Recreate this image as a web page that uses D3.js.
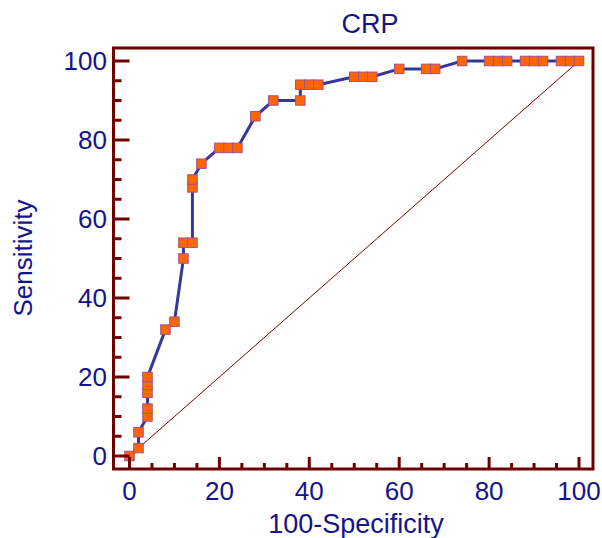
<!DOCTYPE html>
<html>
<head>
<meta charset="utf-8">
<script src="https://cdn.jsdelivr.net/npm/d3@7"></script>
<style>
  body { margin: 0; background: #fff; }
  text { font-family: "Liberation Sans", Arial, sans-serif; fill: #14148a; }
</style>
</head>
<body>
<svg id="chart" width="602" height="538"></svg>
<script>
// ROC points (100-Specificity, Sensitivity)
let fpr = [0, 2, 2, 4, 4, 4, 4, 4, 8, 10, 12, 12, 14, 14, 14, 16, 20, 22, 24, 28, 32, 38, 38, 40, 42,
  50, 52, 54, 60, 66, 68, 74, 80, 82, 84, 88, 90, 92, 96, 98, 100];
let tpr = [0, 2, 6, 10, 12, 16, 18, 20, 32, 34, 50, 54, 54, 68, 70, 74, 78, 78, 78, 86, 90, 90, 94, 94, 94,
  96, 96, 96, 98, 98, 98, 100, 100, 100, 100, 100, 100, 100, 100, 100, 100];
let tickLabels = [0, 20, 40, 60, 80, 100];
let minorTicks = d3.range(0, 101, 5);

let svg = d3.select("#chart");

let xScale = d3.scaleLinear().domain([0, 100]).range([129.5, 579]);
let yScale = d3.scaleLinear().domain([0, 100]).range([456, 61]);

// frame edges
let frameL = 113.5, frameR = 593, frameT = 48, frameB = 469;
let frameColor = "#6e0000";

let points = fpr.map((d, i) => ({ x: d, y: tpr[i] }));

// diagonal reference line
svg.append("line")
  .attr("x1", xScale(0)).attr("y1", yScale(0))
  .attr("x2", xScale(100)).attr("y2", yScale(100))
  .attr("stroke", "#7a0000")
  .attr("stroke-width", 1);

// ROC curve
let lineGen = d3.line()
  .x(d => xScale(d.x))
  .y(d => yScale(d.y));

svg.append("path")
  .attr("d", lineGen(points))
  .attr("fill", "none")
  .attr("stroke", "#37379a")
  .attr("stroke-width", 3)
  .attr("stroke-linejoin", "round");

// markers
let size = 9.5;
svg.selectAll("rect.pt")
  .data(points)
  .enter()
  .append("rect")
  .attr("class", "pt")
  .attr("x", d => xScale(d.x) - size / 2)
  .attr("y", d => yScale(d.y) - size / 2)
  .attr("width", size)
  .attr("height", size)
  .attr("fill", "#ff6600")
  .attr("stroke", "#a3508e")
  .attr("stroke-width", 1);

// frame
svg.append("rect")
  .attr("x", frameL).attr("y", frameT)
  .attr("width", frameR - frameL).attr("height", frameB - frameT)
  .attr("fill", "none")
  .attr("stroke", frameColor)
  .attr("stroke-width", 3);

// x ticks (inside, pointing up)
svg.selectAll("line.xt")
  .data(minorTicks)
  .enter()
  .append("line")
  .attr("class", "xt")
  .attr("x1", d => xScale(d)).attr("x2", d => xScale(d))
  .attr("y1", frameB)
  .attr("y2", d => frameB - (d % 20 === 0 ? 12 : 6))
  .attr("stroke", frameColor)
  .attr("stroke-width", 3);

// y ticks (inside, pointing right)
svg.selectAll("line.yt")
  .data(minorTicks)
  .enter()
  .append("line")
  .attr("class", "yt")
  .attr("y1", d => yScale(d)).attr("y2", d => yScale(d))
  .attr("x1", frameL)
  .attr("x2", d => frameL + (d % 20 === 0 ? 16 : 8))
  .attr("stroke", frameColor)
  .attr("stroke-width", 3);

// tick labels
svg.selectAll("text.xl")
  .data(tickLabels)
  .enter()
  .append("text")
  .attr("class", "xl")
  .attr("x", d => xScale(d))
  .attr("y", 500)
  .attr("text-anchor", "middle")
  .attr("font-size", 26)
  .text(d => d);

svg.selectAll("text.yl")
  .data(tickLabels)
  .enter()
  .append("text")
  .attr("class", "yl")
  .attr("x", 107)
  .attr("y", d => yScale(d) + 9)
  .attr("text-anchor", "end")
  .attr("font-size", 26)
  .text(d => d);

// titles
svg.append("text")
  .attr("x", 370).attr("y", 33)
  .attr("text-anchor", "middle")
  .attr("font-size", 27)
  .text("CRP");

svg.append("text")
  .attr("x", 356).attr("y", 533)
  .attr("text-anchor", "middle")
  .attr("font-size", 27)
  .text("100-Specificity");

svg.append("text")
  .attr("transform", "translate(32,258) rotate(-90)")
  .attr("text-anchor", "middle")
  .attr("font-size", 26)
  .text("Sensitivity");
</script>
</body>
</html>
